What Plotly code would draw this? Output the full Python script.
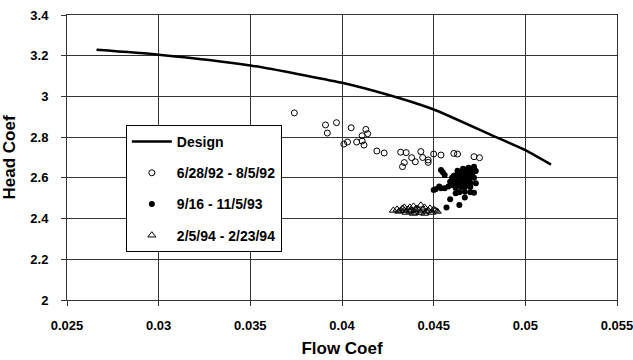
import plotly.graph_objects as go

design_x = [0.02661, 0.0300, 0.0350, 0.0400, 0.0425, 0.0450, 0.0484, 0.0500, 0.0514]
design_y = [3.229, 3.205, 3.152, 3.067, 3.008, 2.936, 2.800, 2.736, 2.665]

s1_x = [0.0374, 0.0391, 0.0397, 0.0392, 0.0405, 0.0413, 0.0414, 0.0411, 0.0411, 0.0408,
        0.0403, 0.0401, 0.0412, 0.0419, 0.0423, 0.0432, 0.0435, 0.0433, 0.0434, 0.0438,
        0.0440, 0.0443, 0.0444, 0.0447, 0.0447, 0.0450, 0.0454, 0.0461, 0.0463, 0.0472, 0.0475]
s1_y = [2.919, 2.860, 2.871, 2.820, 2.846, 2.838, 2.817, 2.807, 2.781, 2.776,
        2.776, 2.766, 2.761, 2.732, 2.722, 2.726, 2.724, 2.655, 2.675, 2.699,
        2.679, 2.729, 2.700, 2.688, 2.676, 2.717, 2.712, 2.720, 2.717, 2.704, 2.699]

s2_x = [0.0454, 0.0455, 0.0456, 0.0451, 0.0453, 0.0454, 0.0456, 0.0458, 0.0460, 0.0459,
        0.0461, 0.0472, 0.0473, 0.0473, 0.0470, 0.0472, 0.0467, 0.0464, 0.0462, 0.0467,
        0.0459, 0.0464, 0.0457, 0.0450,
        0.0462, 0.0463, 0.0464, 0.0465, 0.0465, 0.0466, 0.0466, 0.0467, 0.0467, 0.0468,
        0.0468, 0.0469, 0.0469, 0.0470, 0.0470, 0.0471, 0.0471, 0.0464, 0.0466, 0.0468,
        0.0463, 0.0461, 0.0462, 0.0465, 0.0467, 0.0470, 0.0472, 0.0469, 0.0466, 0.0464,
        0.0468, 0.0460, 0.0463, 0.0470, 0.0462]
s2_y = [2.639, 2.627, 2.614, 2.544, 2.557, 2.549, 2.549, 2.557, 2.565, 2.581,
        2.590, 2.655, 2.634, 2.573, 2.529, 2.527, 2.532, 2.529, 2.524, 2.503,
        2.495, 2.467, 2.454, 2.540,
        2.600, 2.620, 2.580, 2.610, 2.630, 2.590, 2.645, 2.600, 2.620, 2.580,
        2.640, 2.610, 2.590, 2.630, 2.600, 2.620, 2.645, 2.565, 2.570, 2.565,
        2.590, 2.610, 2.575, 2.555, 2.555, 2.575, 2.600, 2.650, 2.615, 2.605,
        2.625, 2.600, 2.635, 2.555, 2.550]

s3_x = [0.0428, 0.0430, 0.0431, 0.0432, 0.0433, 0.0434, 0.0435, 0.0436, 0.0437, 0.0437,
        0.0438, 0.0439, 0.0440, 0.0440, 0.0441, 0.0442, 0.0443, 0.0443, 0.0444, 0.0445,
        0.0446, 0.0447, 0.0448, 0.0449, 0.0450, 0.0451, 0.0452, 0.0445, 0.0439, 0.0434]
s3_y = [2.440, 2.445, 2.435, 2.440, 2.450, 2.440, 2.430, 2.445, 2.455, 2.435,
        2.440, 2.460, 2.445, 2.430, 2.450, 2.440, 2.465, 2.430, 2.445, 2.455,
        2.435, 2.440, 2.450, 2.430, 2.445, 2.440, 2.435, 2.425, 2.425, 2.455]

x_ticks = [0.025, 0.03, 0.035, 0.04, 0.045, 0.05, 0.055]
x_tick_text = ["0.025", "0.03", "0.035", "0.04", "0.045", "0.05", "0.055"]
y_ticks = [2.0, 2.2, 2.4, 2.6, 2.8, 3.0, 3.2, 3.4]
y_tick_text = ["2", "2.2", "2.4", "2.6", "2.8", "3", "3.2", "3.4"]

FONT = "Arial, Liberation Sans, Helvetica, sans-serif"

fig = go.Figure()
fig.add_trace(go.Scatter(x=design_x, y=design_y, mode="lines", name="Design",
                         line=dict(color="black", width=2.5, shape="spline", smoothing=0.6),
                         legendgroup="a"))
fig.add_trace(go.Scatter(x=s1_x, y=s1_y, mode="markers", name="6/28/92 - 8/5/92",
                         marker=dict(symbol="circle-open", size=6, color="black",
                                     line=dict(width=1, color="black")),
                         legendgroup="b"))
fig.add_trace(go.Scatter(x=s2_x, y=s2_y, mode="markers", name="9/16 - 11/5/93",
                         marker=dict(symbol="circle", size=6, color="black"),
                         legendgroup="c"))
fig.add_trace(go.Scatter(x=s3_x, y=s3_y, mode="markers", name="2/5/94 - 2/23/94",
                         marker=dict(symbol="triangle-up-open", size=7, color="black",
                                     line=dict(width=1, color="black")),
                         legendgroup="d"))

axis_common = dict(
    showgrid=True, gridcolor="#333333", gridwidth=1,
    showline=True, linecolor="#333333", linewidth=1, mirror=True,
    ticks="outside", ticklen=5, tickcolor="#333333",
    tickfont=dict(family=FONT, size=13, color="black", weight="bold"),
    zeroline=False, automargin=False,
)

fig.update_xaxes(range=[0.0249999, 0.0550001], tickvals=x_ticks, ticktext=x_tick_text,
                 ticklabelstandoff=8, ticklabeloverflow="allow",
                 title=dict(text="Flow Coef", standoff=10,
                            font=dict(family=FONT, size=17, color="black", weight="bold")),
                 **axis_common)
fig.update_yaxes(range=[2.0, 3.4], tickvals=y_ticks, ticktext=y_tick_text,
                 ticklabelstandoff=10,
                 title=dict(text="Head Coef", standoff=10,
                            font=dict(family=FONT, size=17, color="black", weight="bold")),
                 **axis_common)

fig.update_layout(
    width=633, height=360,
    margin=dict(l=67, r=16, t=15, b=60),
    paper_bgcolor="white", plot_bgcolor="white",
    showlegend=True,
    legend=dict(x=0.107, y=0.614, xanchor="left", yanchor="top",
                bgcolor="white", bordercolor="black", borderwidth=1,
                font=dict(family=FONT, size=14, color="black", weight="bold"),
                traceorder="grouped", tracegroupgap=10, itemwidth=40),
)

fig.write_html("out.html")
